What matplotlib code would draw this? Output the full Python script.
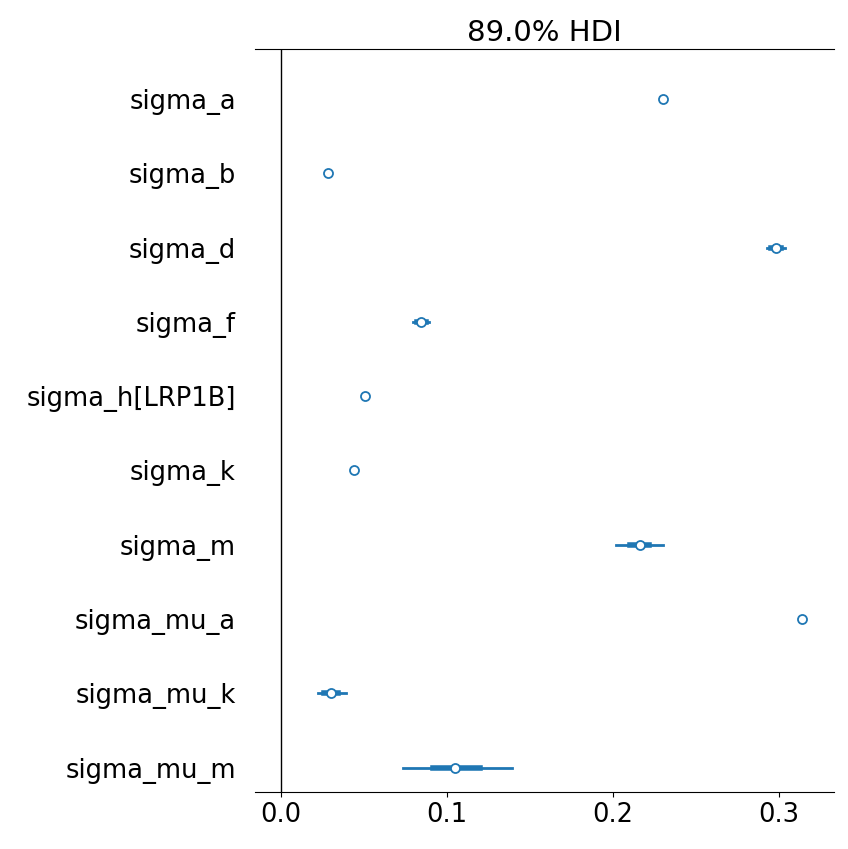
import matplotlib
matplotlib.use("Agg")
import matplotlib.pyplot as plt
import numpy as np

labels = ["sigma_a", "sigma_b", "sigma_d", "sigma_f", "sigma_h[LRP1B]",
          "sigma_k", "sigma_m", "sigma_mu_a", "sigma_mu_k", "sigma_mu_m"]
means = [0.230, 0.0283, 0.298, 0.0843, 0.0506, 0.044, 0.216, 0.314, 0.030, 0.105]
hdi_lo = [0.2295, 0.0280, 0.293, 0.0795, 0.0503, 0.0437, 0.202, 0.3137, 0.0223, 0.0735]
hdi_hi = [0.2305, 0.0286, 0.304, 0.089, 0.0509, 0.0443, 0.230, 0.3143, 0.039, 0.139]
iqr_lo = [0.2298, 0.0282, 0.2955, 0.082, 0.0505, 0.0439, 0.210, 0.3139, 0.026, 0.0916]
iqr_hi = [0.2302, 0.0284, 0.3015, 0.087, 0.0507, 0.0441, 0.222, 0.3141, 0.034, 0.120]

color = "#1f77b4"
fig, ax = plt.subplots(figsize=(8.48, 8.49), dpi=100)
n = len(labels)
ys = np.arange(n)[::-1]
for y, m, lo, hi, qlo, qhi in zip(ys, means, hdi_lo, hdi_hi, iqr_lo, iqr_hi):
    ax.plot([lo, hi], [y, y], color=color, lw=2)
    ax.plot([qlo, qhi], [y, y], color=color, lw=4)
    ax.plot(m, y, "o", mfc="white", mec=color, mew=1.3, ms=6.5, zorder=3)

ax.axvline(0, color="black", lw=1)
ax.set_yticks(ys)
ax.set_yticklabels(labels)
ax.set_xlim(-0.0157, 0.333)
ax.set_ylim(-0.33, n - 0.33)
ax.set_xticks([0.0, 0.1, 0.2, 0.3])
ax.tick_params(axis="both", labelsize=18.5)
ax.tick_params(axis="y", length=0, pad=14)
ax.spines["left"].set_visible(False)
ax.spines["right"].set_visible(False)
ax.set_title("89.0% HDI", fontsize=21)
fig.subplots_adjust(left=0.301, right=0.983, top=0.942, bottom=0.067)
fig.savefig("out.png", dpi=100)
